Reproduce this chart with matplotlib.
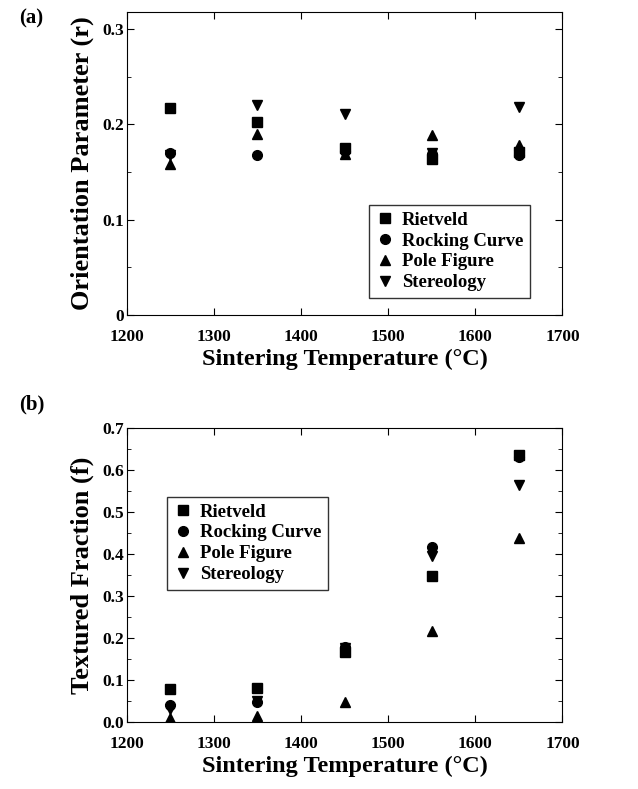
import numpy as np
import matplotlib
matplotlib.use("Agg")
import matplotlib.pyplot as plt
from matplotlib.ticker import MultipleLocator, FormatStrFormatter

plt.rcParams['font.family'] = ['Liberation Serif', 'DejaVu Serif']
plt.rcParams['font.weight'] = 'bold'

temps = [1250, 1350, 1450, 1550, 1650]
methods = ["Rietveld", "Rocking Curve", "Pole Figure", "Stereology"]
markers = ['s', 'o', '^', 'v']

# (a) orientation parameter r
r_rietveld = [0.217, 0.202, 0.175, 0.164, 0.171]
r_rocking = [0.170, 0.168, 0.172, 0.169, 0.168]
r_pole = [0.158, 0.190, 0.169, 0.189, 0.178]
r_stereo = [0.168, 0.220, 0.211, 0.170, 0.218]

# (b) textured fraction f
f_rietveld = [0.077, 0.080, 0.167, 0.348, 0.636]
f_rocking = [0.040, 0.048, 0.179, 0.416, 0.632]
f_pole = [0.008, 0.014, 0.046, 0.217, 0.439]
f_stereo = [0.030, 0.050, 0.175, 0.394, 0.565]

fig = plt.figure(figsize=(6.38, 7.89), dpi=100)
ax1 = fig.add_axes([0.1986, 0.601, 0.683, 0.384])
ax2 = fig.add_axes([0.1986, 0.0853, 0.683, 0.372])


def style(ax):
    ax.set_xlim(1200, 1700)
    ax.xaxis.set_major_locator(MultipleLocator(100))
    ax.yaxis.set_minor_locator(MultipleLocator(0.05))
    ax.tick_params(which='both', direction='in', top=True, right=True)
    ax.tick_params(which='major', length=5, labelsize=12.5)
    ax.tick_params(axis='x', pad=10)
    ax.tick_params(axis='y', pad=2)
    ax.tick_params(which='minor', length=3)
    for lab in ax.get_xticklabels() + ax.get_yticklabels():
        lab.set_fontweight('bold')
    ax.set_xlabel('Sintering Temperature (°C)', fontsize=17.5, fontweight='bold', labelpad=3)


for ax, series in [(ax1, [r_rietveld, r_rocking, r_pole, r_stereo]),
                   (ax2, [f_rietveld, f_rocking, f_pole, f_stereo])]:
    for name, m, vals in zip(methods, markers, series):
        ax.plot(temps, vals, linestyle='none', marker=m, color='black',
                markersize=7, label=name)
    style(ax)

ax1.set_ylim(0, 0.318)
ax1.set_yticks([0, 0.1, 0.2, 0.3])
ax1.set_yticklabels(['0', '0.1', '0.2', '0.3'], fontweight='bold')
ax1.set_ylabel('Orientation Parameter (r)', fontsize=19, fontweight='bold', labelpad=6)

ax2.set_ylim(0, 0.7)
ax2.yaxis.set_major_locator(MultipleLocator(0.1))
ax2.yaxis.set_major_formatter(FormatStrFormatter('%.1f'))
ax2.set_ylabel('Textured Fraction (f)', fontsize=19, fontweight='bold', labelpad=6)
for lab in ax2.get_yticklabels():
    lab.set_fontweight('bold')

leg_kw = dict(frameon=True, fancybox=False, edgecolor='black',
              handletextpad=0.4, labelspacing=0.2, borderpad=0.35,
              handlelength=1.0, borderaxespad=0.0,
              prop={'weight': 'bold', 'size': 13.5})
l1 = ax1.legend(loc='lower right', bbox_to_anchor=(0.925, 0.056), **leg_kw)
l2 = ax2.legend(loc='upper left', bbox_to_anchor=(0.093, 0.766), **leg_kw)
for l in (l1, l2):
    l.get_frame().set_linewidth(1.0)

fig.text(0.03, 0.977, '(a)', fontsize=15, fontweight='bold', ha='left', va='center')
fig.text(0.03, 0.487, '(b)', fontsize=15, fontweight='bold', ha='left', va='center')

fig.savefig('out.png', dpi=100)
